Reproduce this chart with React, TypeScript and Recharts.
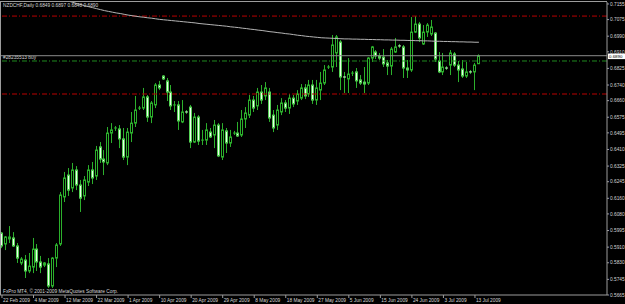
import React from "react";
import { ComposedChart, Bar, Line, XAxis, YAxis, ReferenceLine } from "recharts";

// NZDCHF daily, 22 Feb - 14 Jul 2009
const opens = [
  0.5982, 0.5926, 0.5952, 0.5957, 0.5916, 0.5829, 0.5844, 0.5788, 0.5808, 0.59,
  0.5834, 0.5818, 0.5824, 0.5711, 0.5854, 0.5926, 0.6167, 0.6279, 0.6213, 0.6305,
  0.6228, 0.6172, 0.6243, 0.6305, 0.6274, 0.6423, 0.6361, 0.6341, 0.6494, 0.6515,
  0.6515, 0.6464, 0.6371, 0.6494, 0.6545, 0.6617, 0.6622, 0.6679, 0.6576, 0.6638,
  0.674, 0.6786, 0.6761, 0.6704, 0.6633, 0.6638, 0.6551, 0.6602, 0.6627, 0.6448,
  0.6576, 0.6453, 0.6458, 0.6499, 0.6484, 0.6535, 0.6371, 0.6505, 0.6443, 0.6489,
  0.6494, 0.6484, 0.6566, 0.6586, 0.6663, 0.6633, 0.6704, 0.6684, 0.6704, 0.6586,
  0.6535, 0.6602, 0.6648, 0.6622, 0.6673, 0.6658, 0.6673, 0.6725, 0.6694, 0.674,
  0.6663, 0.6714, 0.675, 0.6827, 0.6832, 0.6904, 0.696, 0.6781, 0.6771, 0.6796,
  0.6807, 0.6766, 0.6755, 0.675, 0.6878, 0.6909, 0.6889, 0.6883, 0.6853, 0.6837,
  0.6909, 0.694, 0.6935, 0.6827, 0.6817, 0.7011, 0.7052, 0.695, 0.7011, 0.7001,
  0.7006, 0.6863, 0.6807, 0.6827, 0.6842, 0.6899, 0.6842, 0.6822, 0.6786, 0.6807,
  0.6807, 0.6849,
];
const highs = [
  0.5987, 0.5967, 0.6018, 0.5987, 0.5931, 0.5859, 0.587, 0.588, 0.5957, 0.5926,
  0.5865, 0.5834, 0.5854, 0.5859, 0.5931, 0.6192, 0.6295, 0.6315, 0.6341, 0.6325,
  0.6254, 0.6274, 0.633, 0.6346, 0.6428, 0.6448, 0.6407, 0.6525, 0.6545, 0.653,
  0.6535, 0.652, 0.652, 0.6602, 0.6684, 0.6633, 0.6725, 0.6689, 0.6658, 0.675,
  0.6761, 0.6791, 0.6776, 0.674, 0.6658, 0.6658, 0.6663, 0.6612, 0.6638, 0.6597,
  0.6586, 0.651, 0.6545, 0.652, 0.6561, 0.6545, 0.6545, 0.652, 0.651, 0.6505,
  0.6551, 0.6612, 0.6627, 0.6689, 0.6684, 0.6725, 0.674, 0.6755, 0.6725, 0.6612,
  0.6638, 0.6673, 0.6663, 0.6694, 0.6689, 0.6714, 0.6745, 0.6745, 0.6766, 0.6766,
  0.6766, 0.6807, 0.6842, 0.6842, 0.6996, 0.6996, 0.697, 0.6807, 0.6878, 0.6812,
  0.6827, 0.6791, 0.6832, 0.6883, 0.694, 0.6919, 0.6904, 0.6924, 0.6868, 0.6935,
  0.6981, 0.695, 0.6945, 0.6868, 0.7088, 0.7093, 0.7063, 0.7047, 0.7057, 0.7073,
  0.7011, 0.6909, 0.6904, 0.6837, 0.6919, 0.6909, 0.6863, 0.6868, 0.6858, 0.6817,
  0.6853, 0.6897,
];
const lows = [
  0.5905, 0.5895, 0.5931, 0.5911, 0.5829, 0.5818, 0.5752, 0.5777, 0.5777, 0.5788,
  0.5777, 0.5808, 0.5701, 0.5701, 0.5808, 0.5916, 0.6141, 0.6172, 0.6192, 0.6202,
  0.609, 0.6151, 0.6223, 0.6233, 0.6254, 0.6341, 0.6279, 0.633, 0.6443, 0.6505,
  0.6417, 0.6356, 0.633, 0.6448, 0.6525, 0.6612, 0.6612, 0.6551, 0.6545, 0.6622,
  0.6714, 0.6766, 0.6658, 0.6612, 0.6602, 0.651, 0.6545, 0.6592, 0.6417, 0.6443,
  0.6433, 0.6433, 0.6433, 0.6469, 0.6417, 0.6371, 0.6356, 0.6392, 0.6423, 0.6484,
  0.6474, 0.6474, 0.652, 0.6571, 0.6602, 0.6612, 0.6643, 0.6663, 0.6551, 0.6499,
  0.651, 0.6586, 0.6602, 0.6592, 0.6627, 0.6638, 0.6663, 0.6668, 0.6679, 0.6643,
  0.6638, 0.6663, 0.674, 0.6822, 0.6807, 0.6832, 0.6714, 0.6699, 0.6699, 0.6786,
  0.6725, 0.674, 0.6699, 0.674, 0.6858, 0.6873, 0.6868, 0.6832, 0.6791, 0.6791,
  0.6904, 0.6929, 0.6776, 0.6776, 0.6807, 0.7006, 0.696, 0.6945, 0.6986, 0.6991,
  0.6858, 0.6801, 0.6791, 0.6817, 0.6791, 0.6832, 0.6755, 0.6776, 0.6776, 0.6796,
  0.6714, 0.6848,
];
const closes = [
  0.5916, 0.5962, 0.5962, 0.5916, 0.5854, 0.5849, 0.5788, 0.5813, 0.59, 0.5834,
  0.5808, 0.5829, 0.5711, 0.5854, 0.5921, 0.6177, 0.6264, 0.6202, 0.6305, 0.6228,
  0.6161, 0.6254, 0.6305, 0.6264, 0.6407, 0.6361, 0.6346, 0.6494, 0.651, 0.652,
  0.6464, 0.6371, 0.6499, 0.6545, 0.6612, 0.6622, 0.6679, 0.6576, 0.6648, 0.674,
  0.6725, 0.6771, 0.6704, 0.6633, 0.6638, 0.6556, 0.6602, 0.6597, 0.6448, 0.6576,
  0.6453, 0.6458, 0.651, 0.6474, 0.6535, 0.6377, 0.651, 0.6443, 0.6474, 0.6494,
  0.6479, 0.6566, 0.6597, 0.6663, 0.6622, 0.6704, 0.6663, 0.6725, 0.6571, 0.652,
  0.6612, 0.6648, 0.6622, 0.6673, 0.6643, 0.6694, 0.6725, 0.6684, 0.674, 0.6663,
  0.6725, 0.675, 0.6817, 0.6832, 0.6945, 0.6986, 0.6781, 0.6776, 0.6796, 0.6801,
  0.6761, 0.675, 0.6745, 0.6878, 0.6935, 0.6889, 0.6878, 0.6848, 0.6837, 0.6924,
  0.6935, 0.6935, 0.6827, 0.6817, 0.7011, 0.7052, 0.6981, 0.7011, 0.7047, 0.7037,
  0.6873, 0.6807, 0.6832, 0.6822, 0.6904, 0.6842, 0.6817, 0.6786, 0.6807, 0.6801,
  0.6842, 0.689,
];
// moving average (first bars are above the visible range)
const ma = [
  null, null, null, null, null, null, null, null, null, null,
  null, null, null, null, null, null, 0.7175, 0.7169, 0.7163, 0.7157,
  0.7152, 0.7146, 0.7141, 0.7136, 0.7131, 0.7126, 0.7121, 0.7117, 0.7113, 0.7109,
  0.7106, 0.7102, 0.7098, 0.7095, 0.7092, 0.7089, 0.7087, 0.7084, 0.7082, 0.7079,
  0.7076, 0.7074, 0.7072, 0.707, 0.7068, 0.7066, 0.7064, 0.7062, 0.706, 0.7058,
  0.7055, 0.7053, 0.7051, 0.7049, 0.7047, 0.7045, 0.7043, 0.7041, 0.7038, 0.7036,
  0.7034, 0.7031, 0.7029, 0.7026, 0.7024, 0.7021, 0.7019, 0.7016, 0.7013, 0.7011,
  0.7008, 0.7006, 0.7003, 0.7001, 0.6998, 0.6995, 0.6993, 0.699, 0.6988, 0.6986,
  0.6984, 0.6982, 0.6981, 0.698, 0.6979, 0.6978, 0.6977, 0.6976, 0.6976, 0.6975,
  0.6975, 0.6974, 0.6974, 0.6973, 0.6973, 0.6972, 0.6972, 0.6971, 0.6971, 0.697,
  0.697, 0.6969, 0.6969, 0.6968, 0.6968, 0.6967, 0.6967, 0.6966, 0.6966, 0.6965,
  0.6964, 0.6964, 0.6963, 0.6963, 0.6962, 0.6962, 0.6961, 0.6961, 0.696, 0.696,
  0.6959, 0.6959,
];

const dateLabels = [
  "22 Feb 2009", "4 Mar 2009", "12 Mar 2009", "22 Mar 2009", "1 Apr 2009", "10 Apr 2009",
  "20 Apr 2009", "29 Apr 2009", "8 May 2009", "18 May 2009", "27 May 2009", "5 Jun 2009",
  "15 Jun 2009", "24 Jun 2009", "3 Jul 2009", "13 Jul 2009",
];
const labelIdx = [0, 8, 16, 24, 32, 40, 48, 56, 64, 72, 80, 88, 96, 104, 112, 120];
const yTicks = [
  0.7155, 0.7075, 0.699, 0.691, 0.6825, 0.674, 0.666, 0.6575, 0.6495, 0.641,
  0.6325, 0.6245, 0.616, 0.608, 0.5995, 0.591, 0.583, 0.5745, 0.5665,
];

const takeProfit = 0.7093;
const entryPrice = 0.6863;
const stopLoss = 0.6694;
const bidPrice = 0.689;

const SLOTS = 154; // bars + empty space on the right
const FONT = "'Liberation Sans', Arial, sans-serif";
const WICK = "#2cb02c";
const GREY = "#9c9c9c";
const TXT = "#d6d6d6";

const rows = Array.from({ length: SLOTS }, (_, i) =>
  i < opens.length
    ? {
        i,
        open: opens[i],
        high: highs[i],
        low: lows[i],
        close: closes[i],
        range: [lows[i], highs[i]],
        ma: ma[i],
      }
    : { i, range: null, ma: null }
);

const Candle = (props: any) => {
  const { x, y, width, height, payload } = props;
  if (!payload || payload.open == null) return null;
  const { open, close, high, low } = payload;
  const top0 = Math.min(y, y + height);
  const h = Math.abs(height);
  const k = high > low ? h / (high - low) : 0;
  const cx = Math.floor(x + width / 2) + 0.5;
  const top = top0 + (high - Math.max(open, close)) * k;
  const bot = top0 + (high - Math.min(open, close)) * k;
  const bull = close >= open;
  const bodyH = bot - top;
  return (
    <g>
      <line x1={cx} x2={cx} y1={top0} y2={top0 + h} stroke={WICK} strokeWidth={1} />
      {bodyH < 1.2 ? (
        <line x1={cx - 1.5} x2={cx + 1.5} y1={top} y2={top} stroke={bull ? WICK : "#cfffcf"} strokeWidth={1} />
      ) : (
        <rect
          x={cx - 1}
          y={top}
          width={2}
          height={bodyH}
          fill={bull ? "#000000" : "#eaffea"}
          stroke={bull ? WICK : "#55d055"}
          strokeWidth={1}
        />
      )}
    </g>
  );
};

const DateTick = ({ x, y, payload }: any) => {
  const k = labelIdx.indexOf(payload.value);
  return (
    <text x={x + 1} y={y + 4} fontSize={4.8} fill={TXT} fontFamily={FONT}>
      {k >= 0 ? dateLabels[k] : ""}
    </text>
  );
};

const BidTag = ({ viewBox }: any) => {
  if (!viewBox) return null;
  const x = viewBox.x + viewBox.width + 1;
  return (
    <g>
      <rect x={x} y={viewBox.y - 2.2} width={17} height={5.6} fill="#ffffff" />
      <text x={x + 1} y={viewBox.y + 2.4} fontSize={4.4} fill="#000000" fontFamily={FONT}>
        {bidPrice.toFixed(4)}
      </text>
    </g>
  );
};

const OrderLabel = ({ viewBox }: any) => {
  if (!viewBox) return null;
  return (
    <text x={viewBox.x + 3} y={viewBox.y - 1.5} fontSize={4.8} fill={TXT} fontFamily={FONT}>
      #28235513 buy
    </text>
  );
};

export default function App() {
  return (
    <div style={{ position: "absolute", left: 0, top: 0, width: 625, height: 304, background: "#000" }}>
      <ComposedChart width={625} height={304} data={rows} margin={{ top: 2, right: 0, bottom: 0, left: 0 }}>
        <XAxis
          dataKey="i"
          type="category"
          ticks={labelIdx}
          interval={0}
          height={9}
          tickSize={3}
          tickMargin={0}
          axisLine={{ stroke: GREY }}
          tickLine={{ stroke: GREY }}
          tick={<DateTick />}
        />
        <YAxis
          orientation="right"
          type="number"
          domain={[0.5665, 0.7165]}
          allowDataOverflow
          ticks={yTicks}
          interval={0}
          width={18}
          tickSize={2}
          tickMargin={1}
          axisLine={{ stroke: GREY }}
          tickLine={{ stroke: GREY }}
          tick={{ fill: TXT, fontSize: 4.8, fontFamily: FONT }}
          tickFormatter={(v: number) => v.toFixed(4)}
        />
        <ReferenceLine y={takeProfit} stroke="#b80000" strokeDasharray="5 2 1 2" />
        <ReferenceLine y={stopLoss} stroke="#b80000" strokeDasharray="5 2 1 2" />
        <ReferenceLine y={entryPrice} stroke="#1f8a1f" strokeDasharray="5 2 1 2" label={<OrderLabel />} />
        <ReferenceLine y={bidPrice} stroke="#8c8c8c" label={<BidTag />} />
        <Line
          dataKey="ma"
          stroke="#b4b4b4"
          strokeWidth={1}
          dot={false}
          activeDot={false}
          isAnimationActive={false}
        />
        <Bar dataKey="range" barSize={3} shape={<Candle />} isAnimationActive={false} />
      </ComposedChart>
      <svg width={625} height={304} style={{ position: "absolute", left: 0, top: 0, pointerEvents: "none" }}>
        <line x1={0.5} x2={0.5} y1={2} y2={295} stroke={GREY} />
        <line x1={0} x2={607} y1={1.5} y2={1.5} stroke={GREY} />
        <text x={3} y={6.5} fontSize={4.8} fill={TXT} fontFamily={FONT}>
          NZDCHF,Daily  0.6849 0.6897 0.6848 0.6890
        </text>
        <text x={3} y={292.5} fontSize={4.8} fill={TXT} fontFamily={FONT}>
          FxPro MT4, © 2001-2009 MetaQuotes Software Corp.
        </text>
      </svg>
    </div>
  );
}
